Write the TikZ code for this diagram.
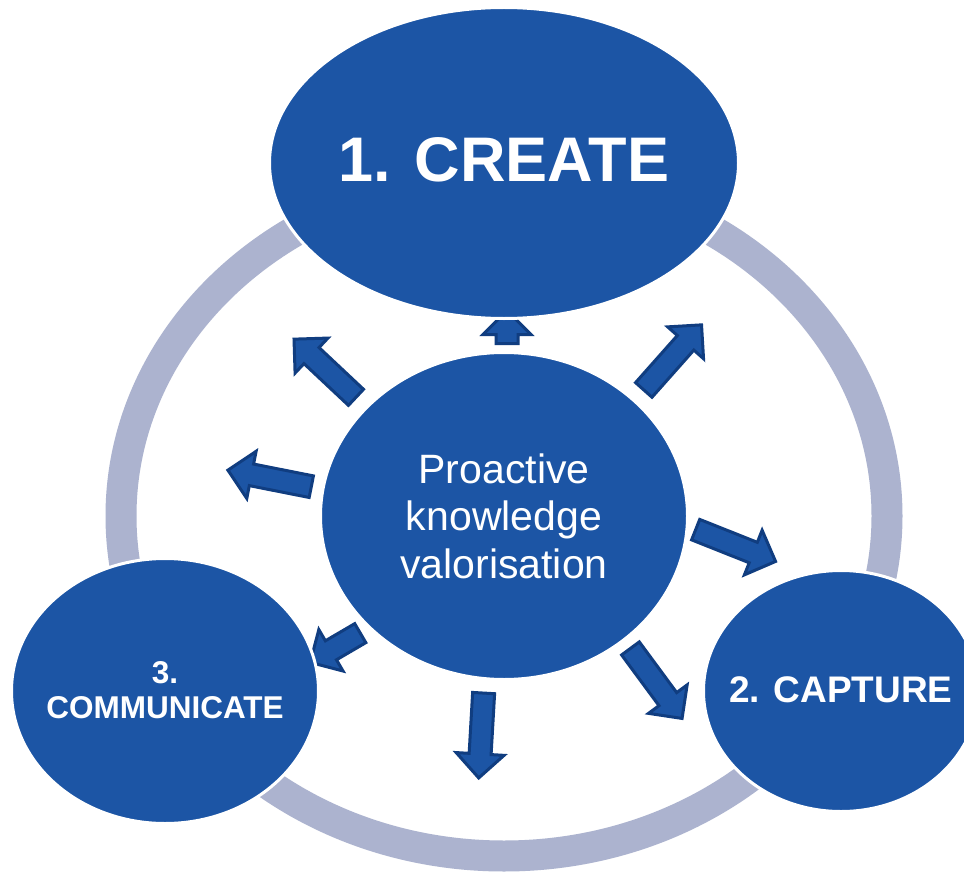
\documentclass[tikz,border=0pt]{standalone}
\usepackage{fontspec}
\setmainfont{Liberation Sans}
\usetikzlibrary{shapes.geometric,shapes.arrows}
\definecolor{nodeblue}{RGB}{28,85,165}
\definecolor{ringcol}{RGB}{172,179,207}
\definecolor{arrowedge}{RGB}{16,61,128}
\tikzset{
  bubble/.style={ellipse, fill=nodeblue, draw=white, line width=3pt, inner sep=0pt},
  blockarrow/.style={single arrow, fill=nodeblue, draw=arrowedge, line width=3pt,
    single arrow head extend=13pt, single arrow tip angle=90,
    inner xsep=0pt, inner ysep=9.5pt, outer sep=0pt},
  lbl/.style={text=white, inner sep=0pt, align=center}
}
\begin{document}
\begin{tikzpicture}[x=1pt,y=-1pt]
\clip (0,0) rectangle (964,872);
\fill[white] (0,0) rectangle (964,872);
% ring
\draw[ringcol, line width=31pt] (504,516) ellipse [x radius=383, y radius=340];
% arrows
\node[blockarrow, minimum height=33pt, rotate=90] (a1) at (507,332.5) {};
\node[blockarrow, minimum height=85pt, rotate=136.8] (a2) at (329,372) {};
\node[blockarrow, minimum height=87pt, rotate=48.4] (a3) at (669,361.5) {};
\node[blockarrow, minimum height=85pt, rotate=168.8] (a4) at (275,479.5) {};
\node[blockarrow, minimum height=86pt, rotate=-21.7] (a5) at (730.5,543.5) {};
\node[blockarrow, minimum height=87pt, rotate=-53.6] (a6) at (653,679) {};
\node[blockarrow, minimum height=85pt, rotate=-93.3] (a7) at (481.5,730) {};
\node[blockarrow, minimum height=58pt, rotate=210.3] (a8) at (340,645) {};
% bubbles
\node[bubble, minimum width=469pt, minimum height=311pt] (create) at (504,163) {};
\node[bubble, minimum width=307pt, minimum height=265pt] (communicate) at (165,691) {};
\node[bubble, minimum width=275pt, minimum height=241pt] (capture) at (841,691) {};
\node[bubble, minimum width=367pt, minimum height=327pt] (center) at (504,516) {};
% labels
\node[lbl, font=\fontsize{63}{70}\selectfont\bfseries] (createtxt) at (504,160) {1. CREATE};
\node[lbl, font=\fontsize{31.5}{35}\selectfont\bfseries] (commtxt) at (165,690.5) {3.\\COMMUNICATE};
\node[lbl, font=\fontsize{37}{42}\selectfont\bfseries] (capttxt) at (841,689.5) {2. CAPTURE};
\node[lbl, font=\fontsize{41}{47.5}\selectfont] (centertxt) at (504,516) {Proactive\\knowledge\\valorisation};
\end{tikzpicture}
\end{document}
